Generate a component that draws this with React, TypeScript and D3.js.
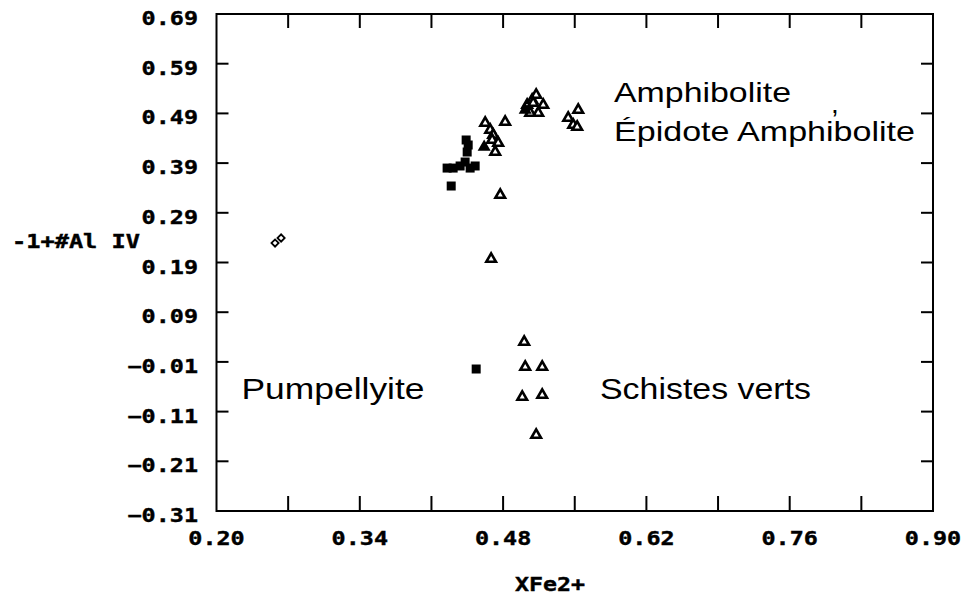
import React from "react";
import * as d3 from "d3";

// ---- data ----
const xTicks = [0.2, 0.27, 0.34, 0.41, 0.48, 0.55, 0.62, 0.69, 0.76, 0.83, 0.9];
const xTickLabels = [0.2, 0.34, 0.48, 0.62, 0.76, 0.9];
const yTickLabels = [-0.31, -0.21, -0.11, -0.01, 0.09, 0.19, 0.29, 0.39, 0.49, 0.59, 0.69];

const openTriangles: [number, number][] = [
  [0.4625, 0.4707], [0.482, 0.4727], [0.4674, 0.4566], [0.4703, 0.4465], [0.4693, 0.4365],
  [0.4752, 0.4304], [0.4723, 0.4123], [0.4772, 0.3258],
  [0.5035, 0.5069], [0.5084, 0.517], [0.5123, 0.527], [0.5094, 0.5109], [0.5192, 0.5069],
  [0.5143, 0.4908], [0.5065, 0.4908],
  [0.5534, 0.4968], [0.5436, 0.4807], [0.5485, 0.4667], [0.5524, 0.4626],
  [0.4683, 0.197], [0.5006, 0.03], [0.5016, -0.0203], [0.5182, -0.0203],
  [0.4987, -0.0806], [0.5182, -0.0766], [0.5123, -0.157],
];
const filledTriangles: [number, number][] = [[0.4615, 0.4224], [0.5016, 0.4968]];
const filledSquares: [number, number][] = [
  [0.4253, 0.38], [0.4312, 0.38], [0.438, 0.3842], [0.4429, 0.3922], [0.4478, 0.38],
  [0.4527, 0.3842], [0.4449, 0.4123], [0.4459, 0.4264], [0.4439, 0.4365],
  [0.4293, 0.3439], [0.4537, -0.0243],
];
const openDiamonds: [number, number][] = [[0.2572, 0.2292], [0.2631, 0.2393]];

const W = 968, H = 602;
const L = 216.5, R = 933, T = 14, B = 511;

const mono = "'DejaVu Sans Mono', monospace";
const sans = "'Liberation Sans', Arial, sans-serif";

export default function App() {
  const x = d3.scaleLinear().domain([0.2, 0.9]).range([L, R]);
  const y = d3.scaleLinear().domain([-0.31, 0.69]).range([B, T]);
  const tri = d3.symbol().type(d3.symbolTriangle).size(40)()!;
  const sq = d3.symbol().type(d3.symbolSquare).size(81)()!;
  const dia = d3.symbol().type(d3.symbolSquare).size(26)()!;
  const fmt = d3.format(".2f");
  const lblW = (s: string) => s.length * 14.1;

  return (
    <svg width={W} height={H} style={{ position: "absolute", left: 0, top: 0, background: "#fff" }}>
      {/* frame */}
      <rect x={L} y={T} width={R - L} height={B - T} fill="none" stroke="#000" strokeWidth={2} />
      {/* x ticks bottom & top */}
      {xTicks.slice(1, -1).map((t) => (
        <g key={"xt" + t}>
          <line x1={x(t)} x2={x(t)} y1={B} y2={B - 15} stroke="#000" strokeWidth={2} />
          <line x1={x(t)} x2={x(t)} y1={T} y2={T + 14} stroke="#000" strokeWidth={2} />
        </g>
      ))}
      {/* y ticks left & right */}
      {yTickLabels.slice(1, -1).map((t) => (
        <g key={"yt" + t}>
          <line x1={L} x2={L + 12} y1={y(t)} y2={y(t)} stroke="#000" strokeWidth={2} />
          <line x1={R} x2={R - 12} y1={y(t)} y2={y(t)} stroke="#000" strokeWidth={2} />
        </g>
      ))}
      {/* tick labels */}
      {xTickLabels.map((t) => {
        const s = fmt(t);
        return (
          <text key={"xl" + t} x={x(t)} y={545} textAnchor="middle" fontFamily={mono} fontWeight="bold"
            fontSize={19} textLength={lblW(s)} lengthAdjust="spacingAndGlyphs" stroke="#000" strokeWidth={0.4}>{s}</text>
        );
      })}
      {yTickLabels.map((t) => {
        const s = fmt(t);
        return (
          <text key={"yl" + t} x={198} y={y(t) + 11} textAnchor="end" fontFamily={mono} fontWeight="bold"
            fontSize={19} textLength={lblW(s)} lengthAdjust="spacingAndGlyphs" stroke="#000" strokeWidth={0.4}>{s}</text>
        );
      })}
      {/* axis titles */}
      <text x={12} y={248} fontFamily={mono} fontWeight="bold" fontSize={19} textLength={128}
        lengthAdjust="spacingAndGlyphs" xmlSpace="preserve" stroke="#000" strokeWidth={0.4}>-1+#Al IV</text>
      <text x={515} y={591} fontFamily={mono} fontWeight="bold" fontSize={19} textLength={70}
        lengthAdjust="spacingAndGlyphs" stroke="#000" strokeWidth={0.4}>XFe2+</text>

      {/* region annotations */}
      <text x={614} y={102} fontFamily={sans} fontSize={28} textLength={177} lengthAdjust="spacingAndGlyphs">Amphibolite</text>
      <text x={831} y={113} fontFamily={sans} fontSize={28}>,</text>
      <text x={614} y={141} fontFamily={sans} fontSize={28} textLength={301} lengthAdjust="spacingAndGlyphs">Épidote Amphibolite</text>
      <text x={241.5} y={398.5} fontFamily={sans} fontSize={30} textLength={183} lengthAdjust="spacingAndGlyphs">Pumpellyite</text>
      <text x={600} y={399} fontFamily={sans} fontSize={30} textLength={211} lengthAdjust="spacingAndGlyphs">Schistes verts</text>

      {/* points */}
      {openDiamonds.map((d, i) => (
        <path key={"d" + i} d={dia} transform={`translate(${x(d[0])},${y(d[1])}) rotate(45)`} fill="#fff" stroke="#000" strokeWidth={1.8} />
      ))}
      {filledSquares.map((d, i) => (
        <path key={"s" + i} d={sq} transform={`translate(${x(d[0])},${y(d[1])})`} fill="#000" />
      ))}
      {openTriangles.map((d, i) => (
        <path key={"t" + i} d={tri} transform={`translate(${x(d[0])},${y(d[1])})`} fill="#fff" stroke="#000" strokeWidth={2.6} />
      ))}
      {filledTriangles.map((d, i) => (
        <path key={"ft" + i} d={tri} transform={`translate(${x(d[0])},${y(d[1])})`} fill="#000" stroke="#000" strokeWidth={2} />
      ))}
    </svg>
  );
}
